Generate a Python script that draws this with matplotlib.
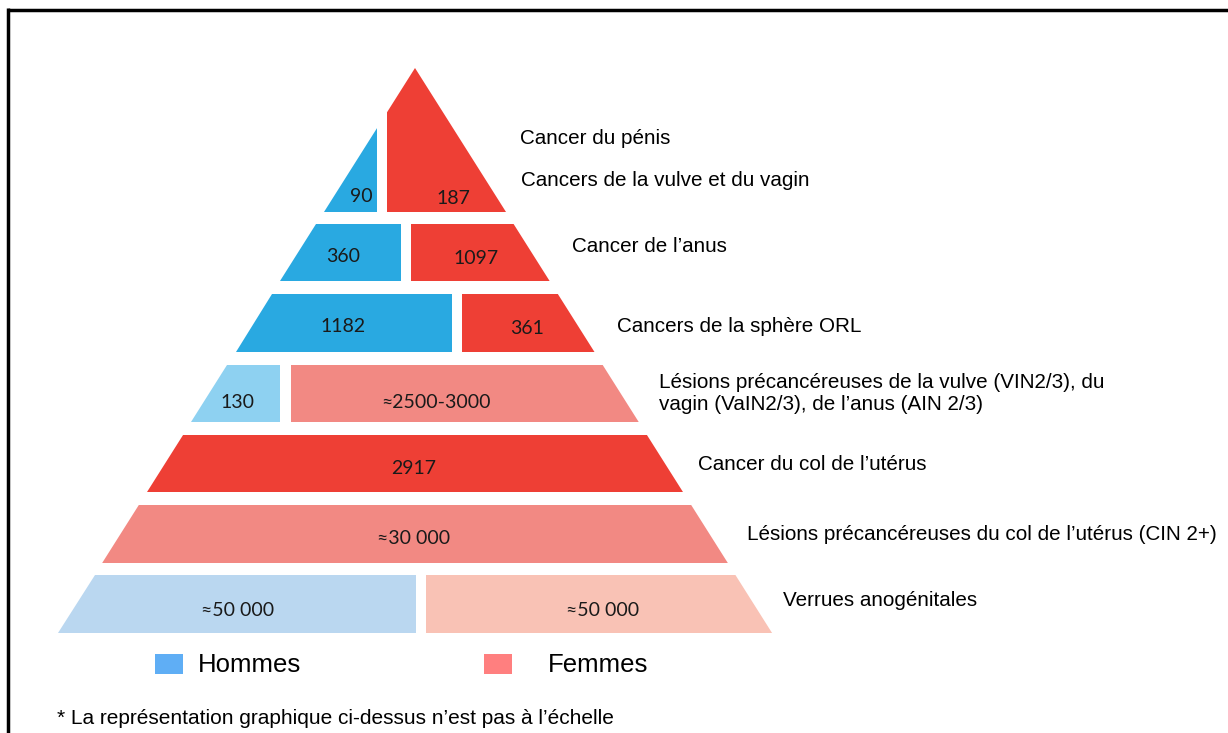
import matplotlib
matplotlib.use("Agg")
import matplotlib.pyplot as plt
from matplotlib.patches import Polygon, Rectangle
from matplotlib.lines import Line2D

# ---------------- data ----------------
categories = [
    "Cancer du pénis\n\nCancers de la vulve et du vagin",
    "Cancer de l\u2019anus",
    "Cancers de la sphère ORL",
    "Lésions précancéreuses de la vulve (VIN2/3), du\nvagin (VaIN2/3), de l\u2019anus (AIN 2/3)",
    "Cancer du col de l\u2019utérus",
    "Lésions précancéreuses du col de l\u2019utérus (CIN 2+)",
    "Verrues anogénitales",
]
hommes_values = ["90", "360", "1182", "130", None, None, "\u224850 000"]
femmes_values = ["187", "1097", "361", "\u22482500-3000", "2917", "\u224830 000", "\u224850 000"]
legend_labels = ["Hommes", "Femmes"]
footnote = "* La représentation graphique ci-dessus n\u2019est pas à l\u2019échelle"

# ---------------- layout / style ----------------
W, H = 1228, 733
apex_x, apex_y = 415, 68
slope = 0.632
row_tops = [68, 224, 294, 365, 435, 505, 575]
row_bots = [212, 281, 352, 422, 492, 563, 633]
# split x (blue ends, red starts); None = whole row one sex
splits = [(377, 387), (401, 411), (452, 462), (280, 291), None, None, (416, 426)]
blue_cols = ["#29A9E1", "#29A9E1", "#29A9E1", "#8ED1F1", None, None, "#BAD7F0"]
red_cols = ["#EE3F35", "#EE3F35", "#EE3F35", "#F28983", "#EE3F35", "#F28983", "#F9C2B5"]
num_pos_h = [(361, 197), (343, 257), (343, 327), (237, 403), None, None, (238, 610)]
num_pos_f = [(453, 198), (476, 258), (527, 328), (436, 403), (414, 468), (414, 538), (603, 610)]
label_pos = [(520, 158), (572, 247), (617, 327), (659, 393), (698, 465), (747, 534), (783, 601)]


def xl(y):
    return apex_x - slope * (y - apex_y)


def xr(y):
    return apex_x + slope * (y - apex_y)


def clip(poly, x0, keep_right):
    out = []
    n = len(poly)
    for i in range(n):
        p, q = poly[i], poly[(i + 1) % n]
        ip = (p[0] >= x0) if keep_right else (p[0] <= x0)
        iq = (q[0] >= x0) if keep_right else (q[0] <= x0)
        if ip:
            out.append(p)
        if ip != iq:
            t = (x0 - p[0]) / (q[0] - p[0])
            out.append((x0, p[1] + t * (q[1] - p[1])))
    return out


fig = plt.figure(figsize=(W / 100, H / 100), dpi=100)
ax = fig.add_axes([0, 0, 1, 1])
ax.set_xlim(0, W)
ax.set_ylim(H, 0)
ax.axis("off")

num_font = dict(family=["Lato", "DejaVu Sans"], fontsize=14, color="#1a1a1a", ha="center", va="center")
lab_font = dict(family=["Liberation Sans", "DejaVu Sans"], fontsize=14.9, color="black", va="center", ha="left")

for i in range(len(categories)):
    yt, yb = row_tops[i], row_bots[i]
    trap = [(xl(yt), yt), (xr(yt), yt), (xr(yb), yb), (xl(yb), yb)]
    if splits[i] is None:
        ax.add_patch(Polygon(trap, closed=True, facecolor=red_cols[i], edgecolor="none"))
    else:
        bx, rx = splits[i]
        ax.add_patch(Polygon(clip(trap, bx, False), closed=True, facecolor=blue_cols[i], edgecolor="none"))
        ax.add_patch(Polygon(clip(trap, rx, True), closed=True, facecolor=red_cols[i], edgecolor="none"))
    if hommes_values[i] is not None:
        ax.text(*num_pos_h[i], hommes_values[i], **num_font)
    ax.text(*num_pos_f[i], femmes_values[i], **num_font)
    if i == 0:
        ax.text(label_pos[i][0], 138, categories[i].split("\n\n")[0], **lab_font)
        ax.text(label_pos[i][0] + 1, 181, categories[i].split("\n\n")[1], **lab_font)
    else:
        ax.text(*label_pos[i], categories[i], linespacing=1.2, **lab_font)

# legend
leg_font = dict(family=["Liberation Sans", "DejaVu Sans"], fontsize=18.5, color="black", va="center", ha="left")
ax.add_patch(Rectangle((155, 654), 28, 20, facecolor="#5FAEF5", edgecolor="none"))
ax.text(198, 665, legend_labels[0], **leg_font)
ax.add_patch(Rectangle((484, 654), 28, 20, facecolor="#FF7F7F", edgecolor="none"))
ax.text(548, 665, legend_labels[1], **leg_font)

# footnote
ax.text(57, 718, footnote, family=["Liberation Sans", "DejaVu Sans"], fontsize=15,
        color="black", va="center", ha="left")

# frame
ax.add_line(Line2D([8.3, W], [9.5, 9.5], color="black", lw=2.5, solid_capstyle="butt"))
ax.add_line(Line2D([8.3, 8.3], [8, H], color="black", lw=2.5, solid_capstyle="butt"))

fig.savefig("out.png", dpi=100)
